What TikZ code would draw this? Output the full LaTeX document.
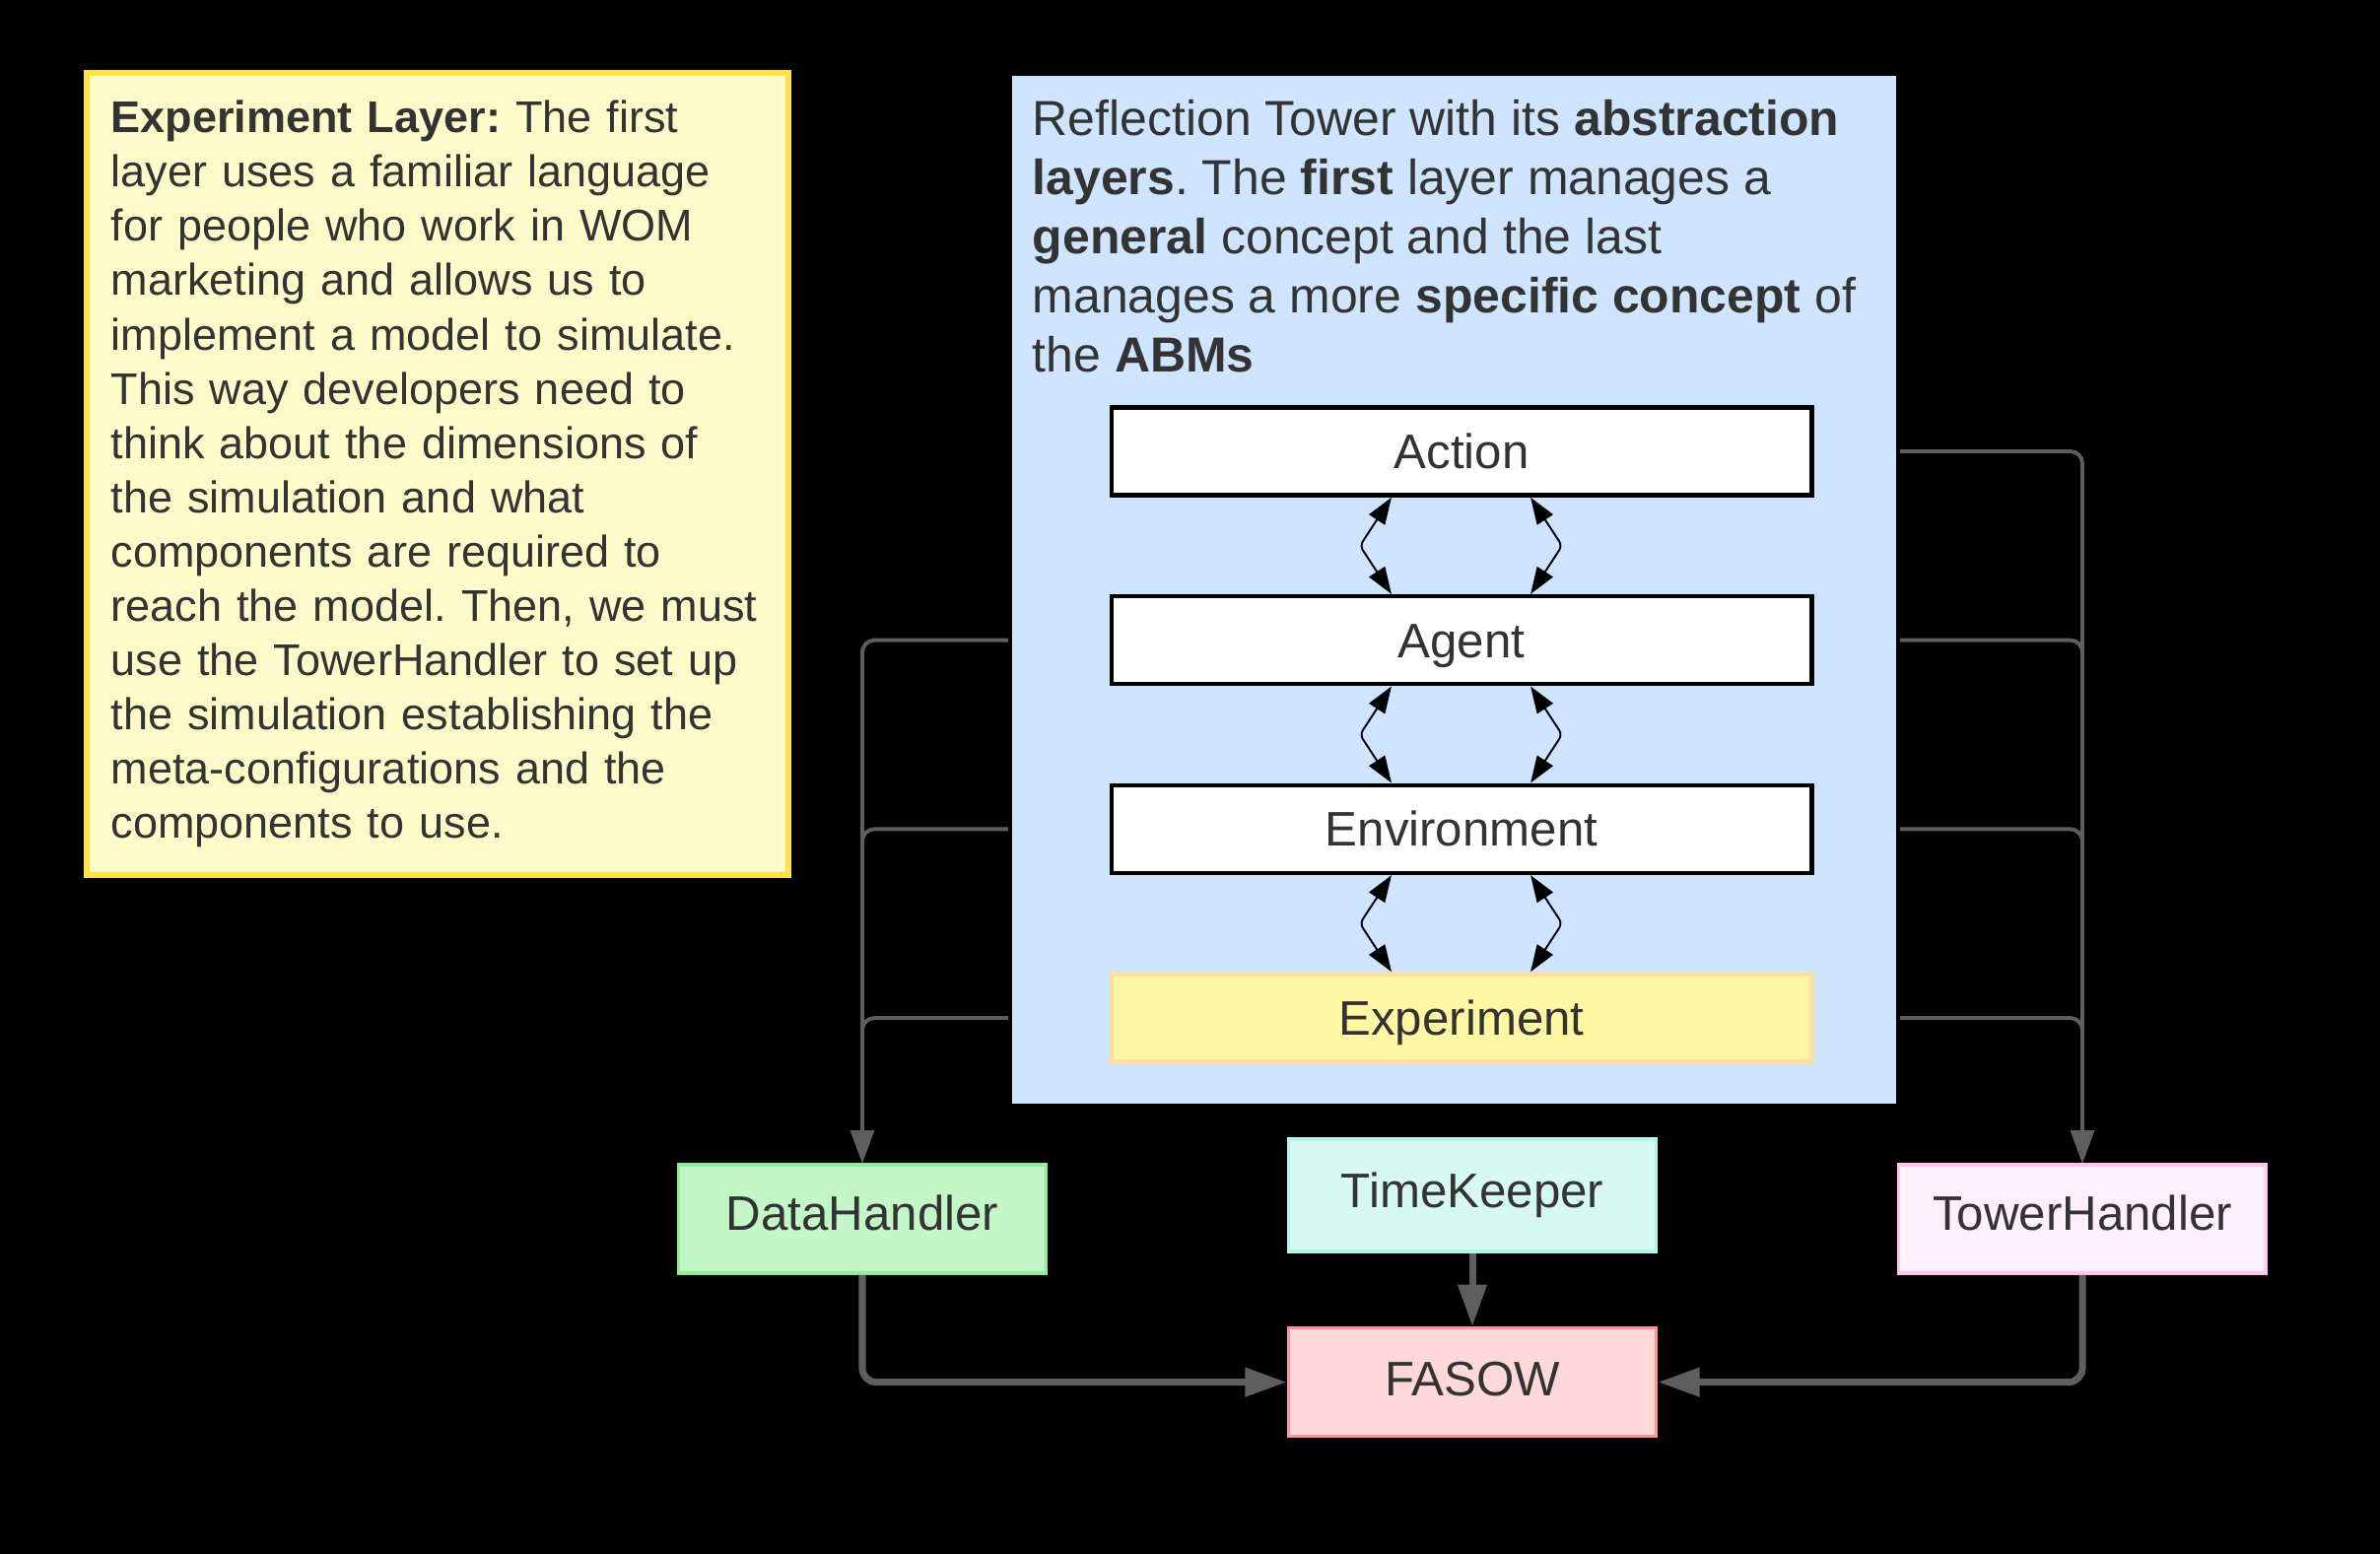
\documentclass[tikz,border=0pt]{standalone}
\usepackage{fontspec}
\setmainfont{Liberation Sans}
\usetikzlibrary{positioning, arrows.meta, calc}
\definecolor{txtgray}{HTML}{333333}
\definecolor{linkgray}{HTML}{5E5E5E}
\definecolor{towerblue}{HTML}{CFE4FF}
\definecolor{notefill}{HTML}{FDFBC9}
\definecolor{noteline}{HTML}{FFE342}
\definecolor{expfill}{HTML}{FFF7A1}
\definecolor{expline}{HTML}{FFDFA3}
\definecolor{datafill}{HTML}{C3F7C8}
\definecolor{dataline}{HTML}{93EC9E}
\definecolor{timefill}{HTML}{D6F9F2}
\definecolor{timeline}{HTML}{B4F4EA}
\definecolor{fasowfill}{HTML}{FFD8D9}
\definecolor{fasowline}{HTML}{FF9494}
\definecolor{handfill}{HTML}{FFF0FB}
\definecolor{handline}{HTML}{FFC7E8}
\newcommand{\busarrow}{-{Triangle[length=9.4pt,width=6.6pt]}}
\newcommand{\mainarrow}{-{Triangle[length=12pt,width=8pt]}}
\newcommand{\layerarrow}{{Triangle[length=7.7pt,width=5.4pt]}-{Triangle[length=7.7pt,width=5.4pt]}}
\frenchspacing

\begin{document}
\begin{tikzpicture}[x=0.01cm, y=-0.01cm,
    label/.style={font=\fontsize{14}{17}\selectfont, text=txtgray,
        text height=10pt, text depth=0pt},
    layerbox/.style={label, draw=black, fill=white, line width=1.3pt,
        minimum width=7.1cm, minimum height=0.89cm, inner sep=0pt},
    compbox/.style={label, line width=1pt, minimum width=3.73cm,
        minimum height=1.1cm, inner sep=0pt},
    bus/.style={draw=linkgray, line width=1.1pt, rounded corners=3.5pt},
    mainlink/.style={draw=linkgray, line width=2pt, rounded corners=4pt},
    layerlink/.style={draw=black, line width=0.55pt, rounded corners=1.5pt},
    node distance=0.98cm]
    \fill[black] (0,0) rectangle (2415,1577);
    \useasboundingbox (0,0) rectangle (2415,1577);

    % note on the experiment layer
    \node[fill=notefill, draw=noteline, line width=1.7pt, text=txtgray,
        font=\fontsize{12.8}{15.65}\selectfont, align=left, inner xsep=0.25cm,
        text width=6.62cm, minimum height=8.14cm] (note) at (444,481)
        {\textbf{Experiment Layer:} The first\\ layer uses a familiar language\\
        for people who work in WOM\\ marketing and allows us to\\
        implement a model to simulate.\\ This way developers need to\\
        think about the dimensions of\\ the simulation and what\\
        components are required to\\ reach the model. Then, we must\\
        use the TowerHandler to set up\\ the simulation establishing the\\
        meta-configurations and the\\ components to use.};

    % reflection tower
    \node[fill=towerblue, minimum width=8.97cm, minimum height=10.43cm,
        inner sep=0pt] (tower) at (1475.5,598.5) {};
    \node[anchor=north west, inner sep=0pt, align=left, text=txtgray,
        font=\fontsize{14.2}{17}\selectfont] (towertext)
        at ([xshift=0.21cm, yshift=-0.25cm]tower.north west)
        {Reflection Tower with its \textbf{abstraction}\\
        \textbf{layers}. The \textbf{first} layer manages a\\
        \textbf{general} concept and the last\\
        manages a more \textbf{specific concept} of\\
        the \textbf{ABMs}};

    \node[layerbox] (action) at (1483,458) {Action};
    \node[layerbox, below=of action] (agent) {Agent};
    \node[layerbox, below=of agent] (env) {Environment};
    \node[layerbox, below=of env, fill=expfill, draw=expline] (exper) {Experiment};

    \foreach \up/\dn in {action/agent, agent/env, env/exper} {
        \draw[layerlink, \layerarrow] ([xshift=-0.71cm]\up.south)
            -- ($([xshift=-1.03cm]\up.south)!0.5!([xshift=-1.03cm]\dn.north)$)
            -- ([xshift=-0.71cm]\dn.north);
        \draw[layerlink, \layerarrow] ([xshift=0.7cm]\up.south)
            -- ($([xshift=1.02cm]\up.south)!0.5!([xshift=1.02cm]\dn.north)$)
            -- ([xshift=0.7cm]\dn.north);
    }

    % components
    \node[compbox, fill=datafill, draw=dataline, text depth=3.4pt] (datah) at (875,1237) {DataHandler};
    \node[compbox, fill=timefill, draw=timeline, minimum height=1.14cm, text depth=3pt] (timek) at (1494,1213) {TimeKeeper};
    \node[compbox, fill=fasowfill, draw=fasowline, text depth=2pt, below=0.74cm of timek] (fasow) {FASOW};
    \node[compbox, fill=handfill, draw=handline, text depth=3.4pt] (towerh) at (2113,1237) {TowerHandler};

    % buses
    \foreach \lay in {agent, env, exper}
        \draw[bus, \busarrow] ([xshift=-0.03cm]tower.west |- \lay) -| (datah.north);
    \foreach \lay in {action, agent, env, exper}
        \draw[bus, \busarrow] ([xshift=0.03cm]tower.east |- \lay) -| (towerh.north);

    \draw[mainlink, \mainarrow] (datah.south) |- (fasow.west);
    \draw[mainlink, \mainarrow] (towerh.south) |- (fasow.east);
    \draw[mainlink, \mainarrow] (timek.south) -- (fasow.north);
\end{tikzpicture}
\end{document}
